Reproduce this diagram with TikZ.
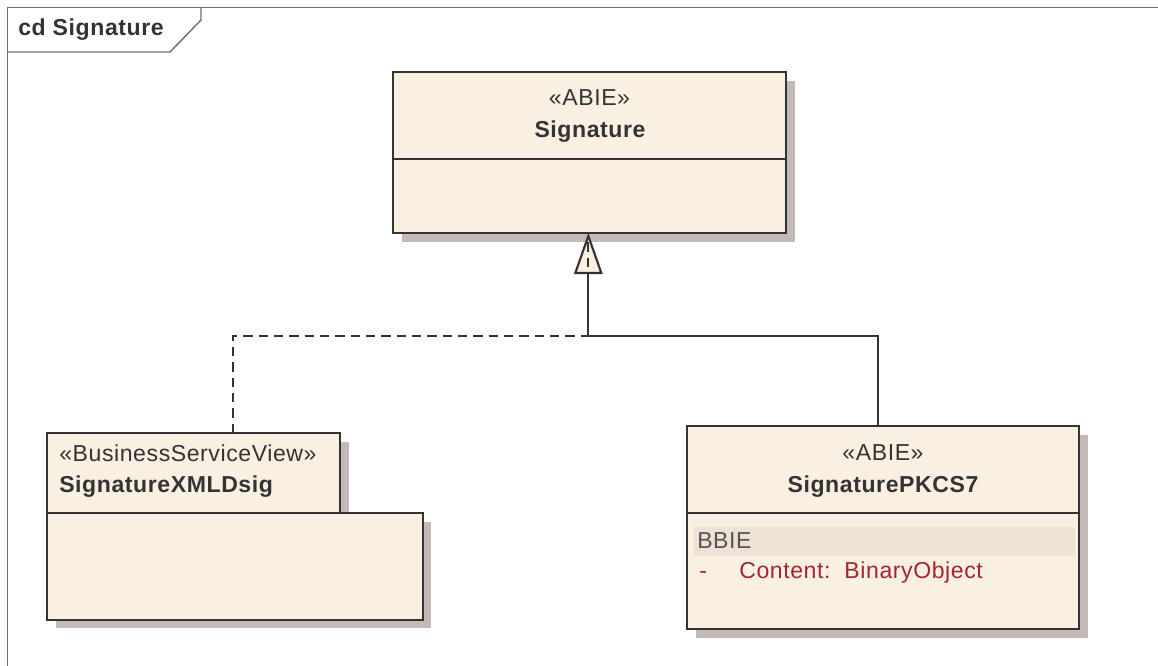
\documentclass[tikz,border=0pt]{standalone}
\usepackage{fontspec}
\setmainfont{Liberation Sans}[LetterSpace=2.5]
\usetikzlibrary{calc,fit}
\definecolor{boxfill}{HTML}{FAF0E2}
\definecolor{boxline}{HTML}{333333}
\definecolor{shadowc}{HTML}{C3BAB8}
\definecolor{bandc}{HTML}{EDE2D3}
\definecolor{attrc}{HTML}{A3262E}
\definecolor{bbiec}{HTML}{555555}
\definecolor{framec}{HTML}{707070}
\begin{document}
\begin{tikzpicture}[x=0.75pt,y=-0.75pt,
  cls/.style={draw=boxline, fill=boxfill, line width=1.6pt, inner sep=0pt, outer sep=0pt},
  shad/.style={fill=shadowc, draw=none},
  divider/.style={draw=boxline, line width=1.6pt},
  stereo/.style={font=\fontsize{17.3}{19}\selectfont, text=boxline, inner sep=0pt},
  clsname/.style={font=\fontsize{17.3}{19}\selectfont\bfseries, text=boxline, inner sep=0pt},
  conn/.style={draw=boxline, line width=1.6pt},
  realize/.style={draw=boxline, line width=1.6pt, dash pattern=on 7pt off 4.5pt},
  gentip/.style={draw=boxline, fill=boxfill, line width=1.6pt, line join=miter},
  framestyle/.style={draw=framec, line width=1.1pt}]
\useasboundingbox (0,0) rectangle (1158,666);
\fill[white] (0,0) rectangle (1158,666);

% frame
\draw[framestyle] (7.5,666) -- (7.5,7.5) -- (1158,7.5);
\draw[framestyle] (7.5,52) -- (170,52) -- (201,20) -- (201,7.5);
\node[clsname, anchor=base west] (title) at (18,36) {cd Signature};

% shadows
\fill[shad] (402,81) rectangle (795,242);
\fill[shad] (56,442) rectangle (349,522);
\fill[shad] (56,522) rectangle (431,628);
\fill[shad] (696,435) rectangle (1088,638);

% Signature
\node[cls, fit={(393,72) (786,233)}] (sig) {};
\draw[divider] (393,159) -- (786,159);
\node[stereo, anchor=base] (sigst) at (589.5,106) {«ABIE»};
\node[clsname, anchor=base] (signame) at (590,138) {Signature};

% SignatureXMLDsig
\node[cls, fit={(47,513) (423,620)}] (xmlb) {};
\node[cls, fit={(47,433) (340,513)}] (xml) {};
\node[stereo, anchor=base west] (xmlst) at (59,462) {«BusinessServiceView»};
\node[clsname, anchor=base west] (xmlname) at (59,493) {SignatureXMLDsig};

% SignaturePKCS7
\node[cls, fit={(687,426) (1079,629)}] (pk) {};
\draw[divider] (687,513) -- (1079,513);
\node[stereo, anchor=base] (pkst) at (883,461) {«ABIE»};
\node[clsname, anchor=base] (pkname) at (883,493) {SignaturePKCS7};
\fill[bandc] (694,527) rectangle (1075,556);
\node[stereo, text=bbiec, anchor=base west] (bbie) at (697,549) {BBIE};
\node[stereo, text=attrc, anchor=base west] (dash) at (699,579) {-};
\node[stereo, text=attrc, anchor=base west] (attr) at (739,579) {Content:\ \ BinaryObject};

% connectors
\coordinate (tip) at ($(sig.south west)!0.497!(sig.south east)+(0,3)$);
\coordinate (tipbase) at ($(tip)+(0,37)$);
\coordinate (join) at ($(tip)+(0,100)$);
\coordinate (pktop) at ($(pk.north)+(-5,0)$);
\coordinate (xmltop) at ($(xml.north west)+(186,0)$);
\draw[conn] (pktop) |- (join) -- (tipbase);
\draw[gentip] (tip) -- ($(tipbase)+(13,0)$) -- ($(tipbase)+(-13,0)$) -- cycle;
\draw[realize] (xmltop) |- (join) -- (tip);
\end{tikzpicture}
\end{document}
